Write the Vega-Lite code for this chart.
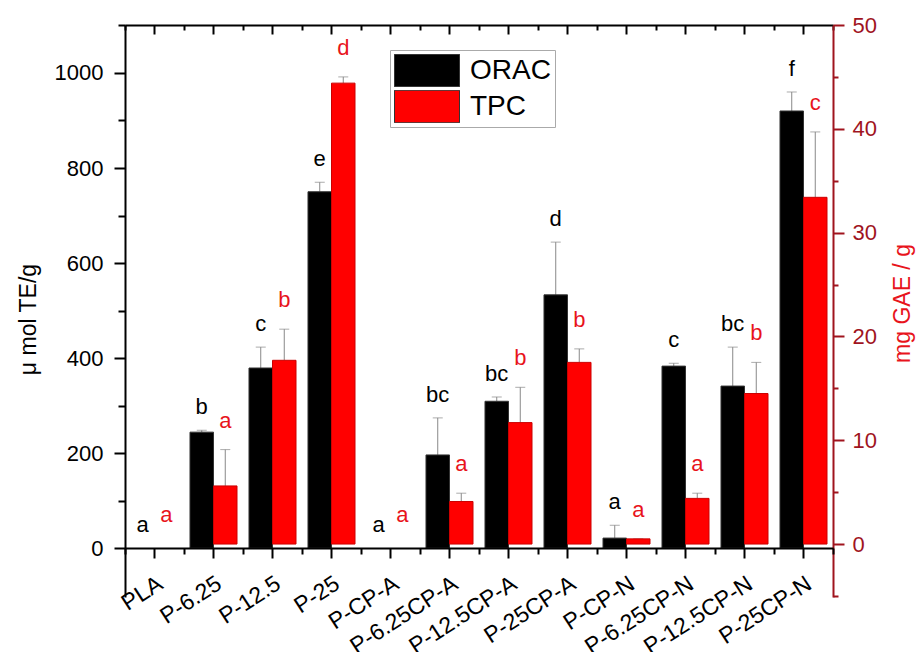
{
  "$schema": "https://vega.github.io/schema/vega-lite/v6.json",
  "width": 708,
  "height": 572,
  "autosize": {"type": "none"},
  "padding": {"left": 125, "top": 25, "right": 85, "bottom": 55},
  "background": "white",
  "config": {
    "view": {"stroke": null},
    "font": "Liberation Sans",
    "axis": {"grid": false, "labelFont": "Liberation Sans", "titleFont": "Liberation Sans", "titleFontWeight": "normal"},
    "legend": {"labelFont": "Liberation Sans"}
  },
  "data": {
    "values": [
      {"cat": "PLA", "series": "ORAC", "value": 0, "hi": 0, "letter": "a"},
      {"cat": "P-6.25", "series": "ORAC", "value": 244, "hi": 248, "letter": "b"},
      {"cat": "P-12.5", "series": "ORAC", "value": 379, "hi": 423, "letter": "c"},
      {"cat": "P-25", "series": "ORAC", "value": 750, "hi": 770, "letter": "e"},
      {"cat": "P-CP-A", "series": "ORAC", "value": 0, "hi": 0, "letter": "a"},
      {"cat": "P-6.25CP-A", "series": "ORAC", "value": 196, "hi": 274, "letter": "bc"},
      {"cat": "P-12.5CP-A", "series": "ORAC", "value": 309, "hi": 318, "letter": "bc"},
      {"cat": "P-25CP-A", "series": "ORAC", "value": 533, "hi": 644, "letter": "d"},
      {"cat": "P-CP-N", "series": "ORAC", "value": 21, "hi": 48, "letter": "a"},
      {"cat": "P-6.25CP-N", "series": "ORAC", "value": 383, "hi": 389, "letter": "c"},
      {"cat": "P-12.5CP-N", "series": "ORAC", "value": 341, "hi": 423, "letter": "bc"},
      {"cat": "P-25CP-N", "series": "ORAC", "value": 920, "hi": 960, "letter": "f"},
      {"cat": "PLA", "series": "TPC", "value": 0, "hi": 0, "letter": "a"},
      {"cat": "P-6.25", "series": "TPC", "value": 5.6, "hi": 9.1, "letter": "a"},
      {"cat": "P-12.5", "series": "TPC", "value": 17.7, "hi": 20.7, "letter": "b"},
      {"cat": "P-25", "series": "TPC", "value": 44.4, "hi": 45.0, "letter": "d"},
      {"cat": "P-CP-A", "series": "TPC", "value": 0, "hi": 0, "letter": "a"},
      {"cat": "P-6.25CP-A", "series": "TPC", "value": 4.1, "hi": 4.9, "letter": "a"},
      {"cat": "P-12.5CP-A", "series": "TPC", "value": 11.7, "hi": 15.1, "letter": "b"},
      {"cat": "P-25CP-A", "series": "TPC", "value": 17.5, "hi": 18.8, "letter": "b"},
      {"cat": "P-CP-N", "series": "TPC", "value": 0.5, "hi": 0.5, "letter": "a"},
      {"cat": "P-6.25CP-N", "series": "TPC", "value": 4.4, "hi": 4.9, "letter": "a"},
      {"cat": "P-12.5CP-N", "series": "TPC", "value": 14.5, "hi": 17.5, "letter": "b"},
      {"cat": "P-25CP-N", "series": "TPC", "value": 33.4, "hi": 39.7, "letter": "c"}
    ]
  },
  "layer": [
    {
      "transform": [{"filter": "datum.series === 'ORAC'"}],
      "resolve": {"axis": {"x": "independent", "y": "independent"}},
      "layer": [
        {
          "mark": {"type": "rule", "color": "#888888", "strokeWidth": 1},
          "encoding": {
            "x": {"field": "cat", "type": "nominal", "title": null,
              "scale": {"domain": ["PLA","P-6.25","P-12.5","P-25","P-CP-A","P-6.25CP-A","P-12.5CP-A","P-25CP-A","P-CP-N","P-6.25CP-N","P-12.5CP-N","P-25CP-N"], "paddingInner": 0, "paddingOuter": 0},
              "axis": {"orient": "bottom", "offset": -49, "zindex": 1, "tickBand": "extent", "tickSize": 6, "tickWidth": 2, "tickColor": "black", "labels": false, "domain": false, "title": null}},
            "xOffset": {"field": "series", "scale": {"domain": ["ORAC", "TPC"], "paddingInner": 0, "paddingOuter": 0.255}},
            "y": {"field": "value", "type": "quantitative", "scale": {"domain": [-103, 1101], "nice": false, "zero": false}, "axis": null},
            "y2": {"field": "hi"}
          }
        },
        {
          "transform": [{"filter": "datum.hi > 0"}],
          "mark": {"type": "tick", "color": "#888888", "thickness": 1, "size": 10},
          "encoding": {
            "x": {"field": "cat", "type": "nominal", "axis": null},
            "xOffset": {"field": "series"},
            "y": {"field": "hi", "type": "quantitative", "axis": null}
          }
        },
        {
          "transform": [{"filter": "datum.value > 0"}],
          "mark": {"type": "bar", "stroke": "#333333", "strokeWidth": 1},
          "encoding": {
            "x": {"field": "cat", "type": "nominal", "title": null,
              "axis": {"orient": "bottom", "offset": -49, "zindex": 1, "domainColor": "black", "domainWidth": 2, "tickColor": "black", "tickWidth": 2, "tickSize": 10,
                "labelAngle": -33, "labelAlign": "right", "labelBaseline": "top", "labelFontSize": 23, "labelPadding": 14, "labelColor": "black", "labelOverlap": false, "labelBound": false, "title": null}},
            "xOffset": {"field": "series"},
            "y": {"field": "value", "type": "quantitative",
              "axis": {"orient": "left", "values": [0,200,400,600,800,1000],
                "tickSize": 11, "tickWidth": 2, "tickColor": "black", "domainColor": "black", "domainWidth": 2,
                "labelFontSize": 22, "labelColor": "black", "labelPadding": 11, "format": "d",
                "title": "μ mol TE/g", "titleFontSize": 23, "titleColor": "black",
                "titleX": -97, "titleY": 294, "titleAngle": -90, "titleAlign": "center", "titleBaseline": "middle"}},
            "color": {"field": "series", "type": "nominal",
              "scale": {"domain": ["ORAC", "TPC"], "range": ["#000000", "#ff0000"]},
              "legend": {"orient": "none", "legendX": 265, "legendY": 25, "title": null,
                "symbolType": "M-1,-0.5H1V0.5H-1Z", "symbolSize": 4225, "clipHeight": 33, "rowPadding": 3,
                "symbolStrokeColor": "#333333", "symbolStrokeWidth": 1, "symbolOpacity": 1,
                "labelFontSize": 28, "labelColor": "black", "labelOffset": 10,
                "padding": 4, "strokeColor": "#aaaaaa", "fillColor": "white"}}
          }
        },
        {
          "mark": {"type": "text", "dy": -16, "fontSize": 22, "font": "Liberation Sans", "color": "black", "baseline": "alphabetic"},
          "encoding": {
            "x": {"field": "cat", "type": "nominal", "axis": null},
            "xOffset": {"field": "series"},
            "y": {"field": "hi", "type": "quantitative", "axis": null},
            "text": {"field": "letter"}
          }
        }
      ]
    },
    {
      "transform": [{"filter": "datum.series === 'TPC'"}],
      "resolve": {"axis": {"x": "independent", "y": "independent"}},
      "layer": [
        {
          "mark": {"type": "rule", "color": "#888888", "strokeWidth": 1},
          "encoding": {
            "x": {"field": "cat", "type": "nominal", "title": null,
              "axis": {"orient": "top", "tickBand": "extent", "tickSize": -5, "tickWidth": 2, "tickColor": "black", "labels": false, "domain": false, "title": null}},
            "xOffset": {"field": "series"},
            "y": {"field": "value", "type": "quantitative", "scale": {"domain": [-5.1, 50], "nice": false, "zero": false}, "axis": null},
            "y2": {"field": "hi"}
          }
        },
        {
          "transform": [{"filter": "datum.hi > 0"}],
          "mark": {"type": "tick", "color": "#888888", "thickness": 1, "size": 10},
          "encoding": {
            "x": {"field": "cat", "type": "nominal", "axis": null},
            "xOffset": {"field": "series"},
            "y": {"field": "hi", "type": "quantitative", "axis": null}
          }
        },
        {
          "transform": [{"filter": "datum.value > 0"}],
          "mark": {"type": "bar", "stroke": "#cc0000", "strokeWidth": 1},
          "encoding": {
            "x": {"field": "cat", "type": "nominal", "title": null,
              "axis": {"orient": "top", "domainColor": "black", "domainWidth": 2, "tickColor": "black", "tickWidth": 2, "tickSize": -9, "labels": false, "title": null}},
            "xOffset": {"field": "series"},
            "y": {"field": "value", "type": "quantitative",
              "axis": {"orient": "right", "values": [0,10,20,30,40,50],
                "tickSize": 11, "tickWidth": 2, "tickColor": "#a0141e", "domainColor": "#a0141e", "domainWidth": 2,
                "labelFontSize": 22, "labelColor": "#a0141e", "labelPadding": 8, "format": "d",
                "title": "mg GAE / g", "titleFontSize": 23, "titleColor": "#e8141c",
                "titleX": 69, "titleY": 278, "titleAngle": -90, "titleAlign": "center", "titleBaseline": "middle"}},
            "color": {"field": "series", "type": "nominal", "legend": null}
          }
        },
        {
          "mark": {"type": "text", "dy": -22, "fontSize": 22, "font": "Liberation Sans", "color": "#e8141c", "baseline": "alphabetic"},
          "encoding": {
            "x": {"field": "cat", "type": "nominal", "axis": null},
            "xOffset": {"field": "series"},
            "y": {"field": "hi", "type": "quantitative", "axis": null},
            "text": {"field": "letter"}
          }
        }
      ]
    },
    {
      "transform": [{"filter": "datum.series === 'ORAC'"}],
      "mark": {"type": "tick", "opacity": 0},
      "encoding": {
        "x": {"field": "cat", "type": "nominal", "axis": null},
        "xOffset": {"field": "series"},
        "y": {"field": "value", "type": "quantitative", "scale": {"domain": [-103, 1101], "nice": false, "zero": false},
          "axis": {"orient": "left", "values": [100,300,500,700,900,1100], "labels": false, "domain": false, "tickSize": 7, "tickWidth": 2, "tickColor": "black", "title": null}}
      }
    },
    {
      "transform": [{"filter": "datum.series === 'TPC'"}],
      "mark": {"type": "tick", "opacity": 0},
      "encoding": {
        "x": {"field": "cat", "type": "nominal", "axis": null},
        "xOffset": {"field": "series"},
        "y": {"field": "value", "type": "quantitative", "scale": {"domain": [-5.1, 50], "nice": false, "zero": false},
          "axis": {"orient": "right", "values": [-5,5,15,25,35,45], "labels": false, "domain": false, "tickSize": 5, "tickWidth": 2, "tickColor": "#a0141e", "title": null}}
      }
    }
  ],
  "resolve": {"scale": {"y": "independent"}, "axis": {"y": "independent", "x": "independent"}}
}
